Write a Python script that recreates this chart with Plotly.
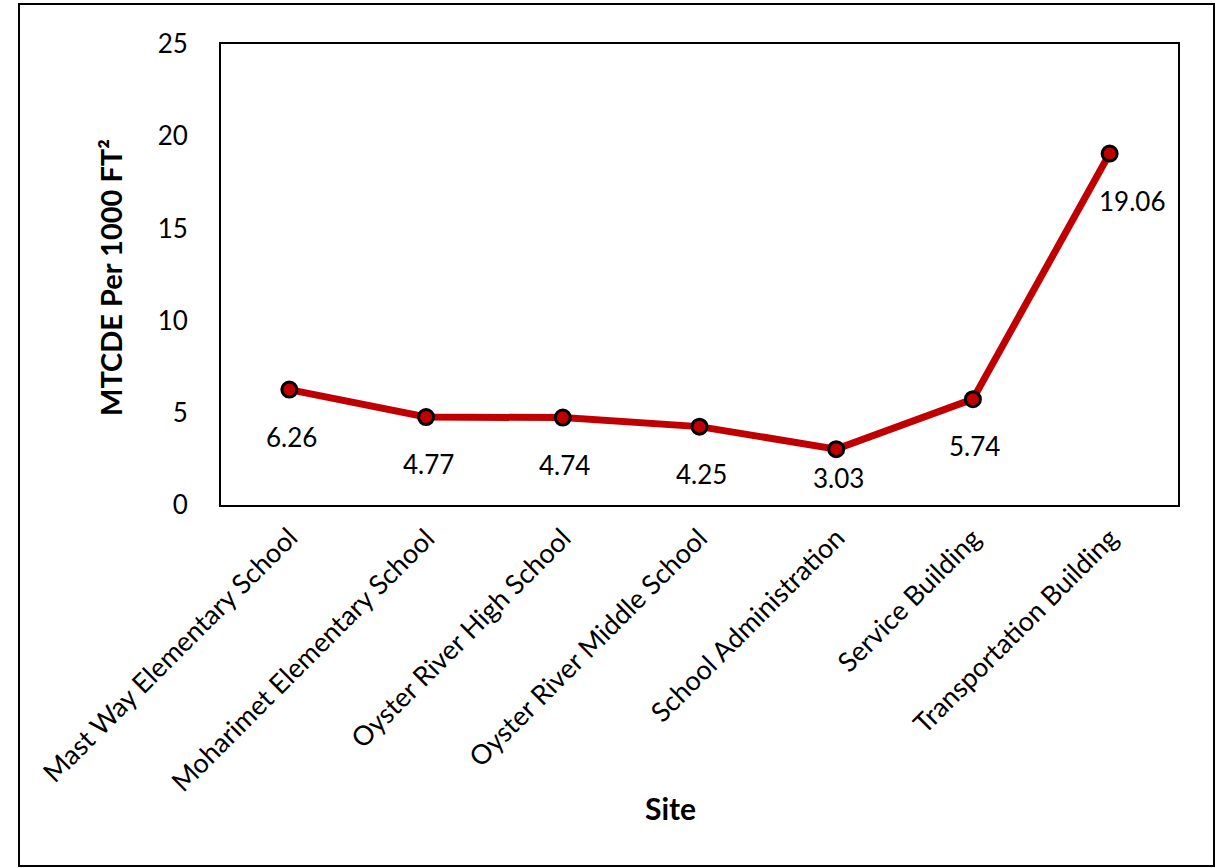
import plotly.graph_objects as go

sites = ["Mast Way Elementary School", "Moharimet Elementary School", "Oyster River High School",
         "Oyster River Middle School", "School Administration", "Service Building", "Transportation Building"]
values = [6.26, 4.77, 4.74, 4.25, 3.03, 5.74, 19.06]
labels = ["6.26", "4.77", "4.74", "4.25", "3.03", "5.74", "19.06"]
y_ticks = [0, 5, 10, 15, 20, 25]

FONT = "Lato"
W, H = 1223, 868
L, R, T, B = 221, 1178, 44, 505
Y_MAX = 25

fig = go.Figure()
fig.add_trace(go.Scatter(
    x=sites, y=values, mode="lines+markers",
    line=dict(color="#C00000", width=7),
    marker=dict(size=15, color="#C00000", line=dict(color="black", width=3)),
    showlegend=False, cliponaxis=False,
))

pw, ph = R - L, B - T
px_per_unit = ph / Y_MAX
for i, (s, v, t) in enumerate(zip(sites, values, labels)):
    # label sits ~47px below its point, but stays inside the plot area
    room = v * px_per_unit - 27
    shift = min(47, room)
    fig.add_annotation(x=s, y=v, text=t, showarrow=False, yshift=-shift,
                       xshift=(22 if i == len(sites) - 1 else 2),
                       xanchor="center", yanchor="middle",
                       font=dict(family=FONT, size=26, color="black"))

# category labels, rotated
for s in sites:
    fig.add_annotation(x=s, xref="x", y=0, yref="paper", text=s, textangle=-45,
                       showarrow=False, xanchor="right", yanchor="top",
                       xshift=17, yshift=-13,
                       font=dict(family=FONT, size=27, color="black"))

fig.update_layout(
    width=W, height=H,
    margin=dict(l=L, r=W - R, t=T, b=H - B),
    paper_bgcolor="white", plot_bgcolor="white",
    font=dict(family=FONT, color="black"),
)
fig.update_xaxes(
    type="category", range=[-0.5, len(sites) - 0.5], autorange=False,
    showgrid=False, zeroline=False, showticklabels=False,
    showline=True, linecolor="black", linewidth=2, mirror=True, ticks="",
)
fig.update_yaxes(
    range=[0, Y_MAX], autorange=False, tickvals=y_ticks, showgrid=False, zeroline=False,
    showline=True, linecolor="black", linewidth=2, mirror=True,
    tickfont=dict(family=FONT, size=26, color="black"), ticks="",
    ticklabelstandoff=26,
)

def px(x): return (x - L) / pw
def py(y): return (B - y) / ph

fig.add_shape(type="rect", xref="paper", yref="paper",
              x0=px(19), x1=px(1214), y0=py(866), y1=py(4),
              line=dict(color="black", width=2), fillcolor="rgba(0,0,0,0)", layer="below")

fig.add_annotation(xref="paper", yref="paper", x=px(110), y=py(278), text="<b>MTCDE Per 1000 FT²</b>",
                   textangle=-90, showarrow=False, xanchor="center", yanchor="middle",
                   font=dict(family=FONT, size=29, color="black"))
fig.add_annotation(xref="paper", yref="paper", x=px(670), y=py(808), text="<b>Site</b>",
                   showarrow=False, xanchor="center", yanchor="middle",
                   font=dict(family=FONT, size=30, color="black"))

fig.write_html("out.html")
